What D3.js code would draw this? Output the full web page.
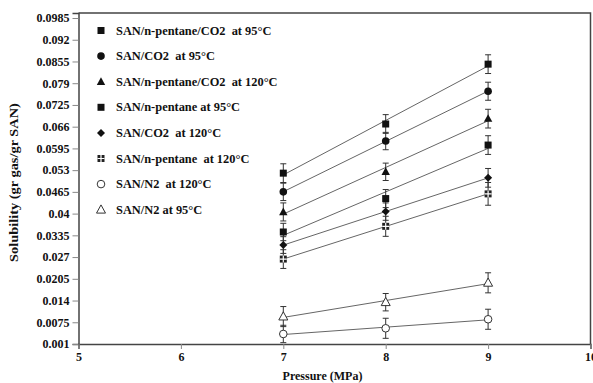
<!DOCTYPE html>
<html><head><meta charset="utf-8">
<script src="https://cdn.jsdelivr.net/npm/d3@7"></script>
<style>body{margin:0;background:#fff}svg{display:block}text{font-family:"Liberation Serif","Times New Roman",serif;font-weight:bold;fill:#111;white-space:pre}</style>
</head><body><svg id="c" width="593" height="383"></svg>
<script>
const pressures = [7, 8, 9];
const seriesNames = [
  "SAN/n-pentane/CO2  at 95°C",
  "SAN/CO2  at 95°C",
  "SAN/n-pentane/CO2  at 120°C",
  "SAN/n-pentane at 95°C",
  "SAN/CO2  at 120°C",
  "SAN/n-pentane  at 120°C",
  "SAN/N2  at 120°C",
  "SAN/N2 at 95°C"
];
const sPentCO2_95  = [0.0521, 0.0668, 0.0847];
const sCO2_95      = [0.0465, 0.0617, 0.0766];
const sPentCO2_120 = [0.0405, 0.0525, 0.0684];
const sPent_95     = [0.0345, 0.0445, 0.0605];
const sCO2_120     = [0.0306, 0.0406, 0.0507];
const sPent_120    = [0.0264, 0.0362, 0.0459];
const sN2_120      = [0.0040, 0.0057, 0.0084];
const sN2_95       = [0.0092, 0.0135, 0.0193];
const errPentCO2_95  = [0.0028, 0.0028, 0.0028];
const errCO2_95      = [0.0026, 0.0026, 0.0027];
const errPentCO2_120 = [0.0027, 0.0026, 0.0028];
const errPent_95     = [0.0026, 0.0027, 0.0028];
const errCO2_120     = [0.0025, 0.0026, 0.0028];
const errPent_120    = [0.0028, 0.0030, 0.0034];
const errN2_120      = [0.0026, 0.0030, 0.0030];
const errN2_95       = [0.0030, 0.0026, 0.0030];
const markerTypes = ["square","circle","triangle","square","diamond","patsquare","ocircle","otriangle"];
const xTicks = [5, 6, 7, 8, 9, 10];
const yTicks = ["0.001","0.0075","0.014","0.0205","0.027","0.0335","0.04","0.0465","0.053","0.0595","0.066","0.0725","0.079","0.0855","0.092","0.0985"];

const values = [sPentCO2_95, sCO2_95, sPentCO2_120, sPent_95, sCO2_120, sPent_120, sN2_120, sN2_95];
const errors = [errPentCO2_95, errCO2_95, errPentCO2_120, errPent_95, errCO2_120, errPent_120, errN2_120, errN2_95];

const svg = d3.select("#c");
const L = 78.5, R = 590.5, T = 13, B = 344;
const x = d3.scaleLinear().domain([5, 10]).range([L, R]);
const y = d3.scaleLinear().domain([0.001, 0.1]).range([B, T]);

svg.append("path").attr("d", `M${L},${T}H${R}V${B}`).attr("fill","none").attr("stroke","#444").attr("stroke-width",1.5);

const yAxis = d3.axisLeft(y).tickValues(yTicks.map(Number)).tickFormat((d,i)=>yTicks[i]).tickSize(6).tickPadding(3);
const gy = svg.append("g").attr("transform",`translate(${L},0)`).call(yAxis);
gy.select(".domain").attr("stroke","#444").attr("stroke-width",1.5);
gy.selectAll(".tick line").attr("stroke","#888");
gy.selectAll("text").attr("font-size",12).style("font-family","Liberation Serif").style("font-weight","bold").attr("fill","#111");

const xAxis = d3.axisBottom(x).tickValues(xTicks).tickFormat(d3.format("d")).tickSize(5).tickPadding(3);
const gx = svg.append("g").attr("transform",`translate(0,${B})`).call(xAxis);
gx.select(".domain").attr("stroke","#444").attr("stroke-width",1.5);
gx.selectAll(".tick line").attr("stroke","#888");
gx.selectAll("text").attr("font-size",12).style("font-family","Liberation Serif").style("font-weight","bold").attr("fill","#111");

svg.append("text").attr("x",(L+R)/2 - 12).attr("y",380).attr("text-anchor","middle").attr("font-size",12).text("Pressure (MPa)");
svg.append("text").attr("transform",`translate(18,${(T+B)/2 + 4}) rotate(-90) scale(1.15,1)`).attr("text-anchor","middle").attr("font-size",12.5).text("Solubility (gr gas/gr SAN)");

function drawMarker(g, type, cx, cy) {
  if (type === "square") g.append("rect").attr("x",cx-3.5).attr("y",cy-3.5).attr("width",7).attr("height",7).attr("fill","#111");
  else if (type === "circle") g.append("circle").attr("cx",cx).attr("cy",cy).attr("r",3.8).attr("fill","#111");
  else if (type === "triangle") g.append("path").attr("d",`M${cx},${cy-4.5}L${cx+4.2},${cy+3.2}L${cx-4.2},${cy+3.2}Z`).attr("fill","#111");
  else if (type === "diamond") g.append("path").attr("d",`M${cx},${cy-4}L${cx+4},${cy}L${cx},${cy+4}L${cx-4},${cy}Z`).attr("fill","#111");
  else if (type === "patsquare") {
    g.append("rect").attr("x",cx-3.5).attr("y",cy-3.5).attr("width",7).attr("height",7).attr("fill","#222");
    g.append("path").attr("d",`M${cx-3.5},${cy}H${cx+3.5}M${cx},${cy-3.5}V${cy+3.5}`).attr("stroke","#fff").attr("stroke-width",1.2);
  }
  else if (type === "ocircle") g.append("circle").attr("cx",cx).attr("cy",cy).attr("r",3.8).attr("fill","#fff").attr("stroke","#333").attr("stroke-width",1);
  else if (type === "otriangle") g.append("path").attr("d",`M${cx},${cy-4.8}L${cx+4.5},${cy+3.4}L${cx-4.5},${cy+3.4}Z`).attr("fill","#fff").attr("stroke","#333").attr("stroke-width",1);
}

const plot = svg.append("g");
values.forEach((vals, si) => {
  const mx = d3.mean(pressures), my = d3.mean(vals);
  const sxy = d3.sum(pressures, (p,i)=>(p-mx)*(vals[i]-my));
  const sxx = d3.sum(pressures, p=>(p-mx)*(p-mx));
  const slope = sxy/sxx, icpt = my - slope*mx;
  const x0 = pressures[0], x1 = pressures[pressures.length-1];
  plot.append("line").attr("x1",x(x0)).attr("y1",y(icpt+slope*x0)).attr("x2",x(x1)).attr("y2",y(icpt+slope*x1))
    .attr("stroke","#666").attr("stroke-width",1);
  vals.forEach((v,i)=>{
    const e = errors[si][i], cx = x(pressures[i]);
    const g = plot.append("g").attr("stroke","#333").attr("stroke-width",1);
    g.append("line").attr("x1",cx).attr("x2",cx).attr("y1",y(v+e)).attr("y2",y(v-e));
    g.append("line").attr("x1",cx-3).attr("x2",cx+3).attr("y1",y(v+e)).attr("y2",y(v+e));
    g.append("line").attr("x1",cx-3).attr("x2",cx+3).attr("y1",y(v-e)).attr("y2",y(v-e));
  });
});
values.forEach((vals, si) => {
  vals.forEach((v,i)=> drawMarker(plot, markerTypes[si], x(pressures[i]), y(v)));
});

const leg = svg.append("g");
seriesNames.forEach((name, i) => {
  const ly = 30.5 + i*25.6;
  drawMarker(leg, markerTypes[i], 101, ly);
  leg.append("text").attr("x",116).attr("y",ly+4).attr("font-size",12.4).text(name);
});
</script></body></html>
